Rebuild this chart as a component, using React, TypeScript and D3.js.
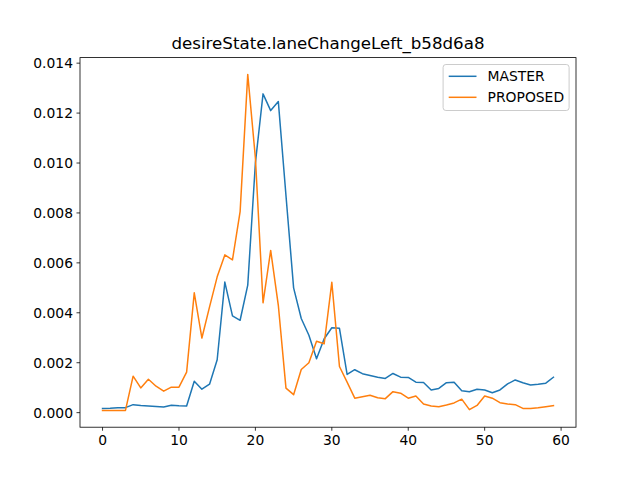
import React from "react";
import * as d3 from "d3";

const title = "desireState.laneChangeLeft_b58d6a8";
const seriesNames = ["MASTER", "PROPOSED"];
const colors = ["#1f77b4", "#ff7f0e"];

const master = [
  0.00017, 0.00018, 0.0002, 0.0002, 0.00032, 0.00029, 0.00027, 0.00025, 0.00023, 0.0003,
  0.00028, 0.00027, 0.00126, 0.00094, 0.00114, 0.00212, 0.00523, 0.00388, 0.0037, 0.00511,
  0.0100, 0.01277, 0.0121, 0.01246, 0.0087, 0.005, 0.00377, 0.0031, 0.00216, 0.00296,
  0.0034, 0.00338, 0.00153, 0.00172, 0.00156, 0.00149, 0.00142, 0.00137, 0.00157, 0.00142,
  0.00141, 0.00122, 0.00121, 0.00091, 0.00097, 0.0012, 0.00122, 0.00088, 0.00084, 0.00094,
  0.00091, 0.0008, 0.00091, 0.00115, 0.00131, 0.0012, 0.00111, 0.00114, 0.00118, 0.00142,
];
const proposed = [
  0.00009, 0.00009, 0.00009, 0.00009, 0.00146, 0.00099, 0.00134, 0.00106, 0.00086, 0.00102,
  0.00102, 0.00162, 0.0048, 0.00299, 0.00424, 0.00544, 0.00632, 0.00612, 0.00805, 0.01355,
  0.0102, 0.0044, 0.0065, 0.0043, 0.00098, 0.00072, 0.00173, 0.002, 0.00286, 0.00276,
  0.00522, 0.00185, 0.00122, 0.00058, 0.00064, 0.0007, 0.0006, 0.00056, 0.00084, 0.00078,
  0.00058, 0.00067, 0.00035, 0.00027, 0.00024, 0.00031, 0.00039, 0.00054, 0.00012, 0.00029,
  0.00067, 0.00058, 0.0004, 0.00035, 0.00032, 0.00017, 0.00017, 0.0002, 0.00024, 0.00028,
];
const xTicks = [0, 10, 20, 30, 40, 50, 60];
const yTicks = [0, 0.002, 0.004, 0.006, 0.008, 0.01, 0.012, 0.014];

export default function App() {
  const W = 640, H = 480;
  const left = 80, right = 576, top = 57.6, bottom = 427.2;
  const n = master.length;
  const xMin = 0, xMax = n - 1;
  const xPad = (xMax - xMin) * 0.05;
  const all = master.concat(proposed);
  const yMin = d3.min(all)!, yMax = d3.max(all)!;
  const yPad = (yMax - yMin) * 0.05;
  const x = d3.scaleLinear().domain([xMin - xPad, xMax + xPad]).range([left, right]);
  const y = d3.scaleLinear().domain([yMin - yPad, yMax + yPad]).range([bottom, top]);
  const line = d3.line<number>().x((_, i) => x(i)).y((d) => y(d));
  const series = [master, proposed];
  const font = "DejaVu Sans, sans-serif";
  const fs = 13.89;

  const lgW = 126, lgH = 46;
  const lgX = right - 6.9 - lgW, lgY = top + 6.9;

  return (
    <svg width={W} height={H} style={{ position: "absolute", left: 0, top: 0 }} fontFamily={font}>
      <rect x={0} y={0} width={W} height={H} fill="#fff" />
      <defs>
        <clipPath id="clip">
          <rect x={left} y={top} width={right - left} height={bottom - top} />
        </clipPath>
      </defs>
      <g clipPath="url(#clip)">
        {series.map((s, k) => (
          <path key={k} d={line(s)!} fill="none" stroke={colors[k]} strokeWidth={1.5} strokeLinejoin="round" strokeLinecap="square" />
        ))}
      </g>
      <rect x={left} y={top} width={right - left} height={bottom - top} fill="none" stroke="#000" strokeWidth={0.8} />
      {xTicks.map((t) => (
        <g key={t}>
          <line x1={x(t)} x2={x(t)} y1={bottom} y2={bottom + 3.5} stroke="#000" strokeWidth={0.8} />
          <text x={x(t)} y={bottom + 7 + 11} fontSize={fs} textAnchor="middle" fill="#000">{t}</text>
        </g>
      ))}
      {yTicks.map((t) => (
        <g key={t}>
          <line x1={left - 3.5} x2={left} y1={y(t)} y2={y(t)} stroke="#000" strokeWidth={0.8} />
          <text x={left - 7} y={y(t)} dy="0.36em" fontSize={fs} textAnchor="end" fill="#000">{t.toFixed(3)}</text>
        </g>
      ))}
      <text x={(left + right) / 2} y={top - 8.3} fontSize={16.67} textAnchor="middle" fill="#000">{title}</text>
      <g>
        <rect x={lgX} y={lgY} width={lgW} height={lgH} rx={2.8} fill="#fff" fillOpacity={0.8} stroke="#cccccc" strokeWidth={1} />
        {seriesNames.map((name, k) => {
          const cy = lgY + 11.8 + k * 21;
          return (
            <g key={name}>
              <line x1={lgX + 5.6} x2={lgX + 33.4} y1={cy} y2={cy} stroke={colors[k]} strokeWidth={1.5} />
              <text x={lgX + 44.5} y={cy} dy="0.36em" fontSize={fs} fill="#000">{name}</text>
            </g>
          );
        })}
      </g>
    </svg>
  );
}
